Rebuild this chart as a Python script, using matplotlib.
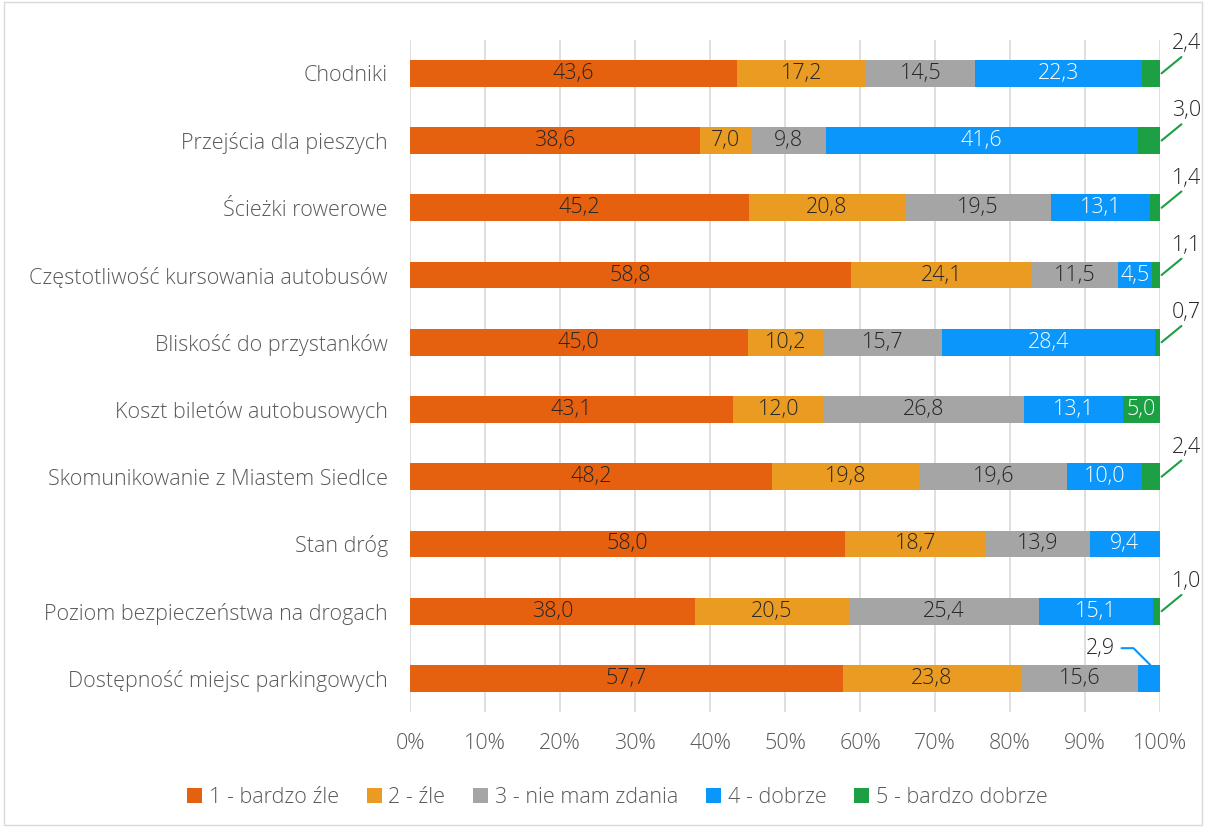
import matplotlib
matplotlib.use("Agg")
import matplotlib.pyplot as plt
from matplotlib.patches import Rectangle

plt.rcParams["font.family"] = ["Open Sans", "DejaVu Sans"]
plt.rcParams["font.weight"] = "light"

CATEGORIES = [
    "Chodniki",
    "Przejścia dla pieszych",
    "Ścieżki rowerowe",
    "Częstotliwość kursowania autobusów",
    "Bliskość do przystanków",
    "Koszt biletów autobusowych",
    "Skomunikowanie z Miastem Siedlce",
    "Stan dróg",
    "Poziom bezpieczeństwa na drogach",
    "Dostępność miejsc parkingowych",
]
BARDZO_ZLE = [43.6, 38.6, 45.2, 58.8, 45.0, 43.1, 48.2, 58.0, 38.0, 57.7]
ZLE = [17.2, 7.0, 20.8, 24.1, 10.2, 12.0, 19.8, 18.7, 20.5, 23.8]
NIE_MAM = [14.5, 9.8, 19.5, 11.5, 15.7, 26.8, 19.6, 13.9, 25.4, 15.6]
DOBRZE = [22.3, 41.6, 13.1, 4.5, 28.4, 13.1, 10.0, 9.4, 15.1, 2.9]
BARDZO_DOBRZE = [2.4, 3.0, 1.4, 1.1, 0.7, 5.0, 2.4, 0.0, 1.0, 0.0]
SERIES_NAMES = ["1 - bardzo źle", "2 - źle", "3 - nie mam zdania", "4 - dobrze", "5 - bardzo dobrze"]

COLORS = ["#E5600F", "#EA9C22", "#A5A5A5", "#0A96FA", "#1CA043"]
LABEL_COLORS = ["#262626", "#262626", "#262626", "white", "white"]
FS = 15.5

series = [BARDZO_ZLE, ZLE, NIE_MAM, DOBRZE, BARDZO_DOBRZE]

fig = plt.figure(figsize=(12.06, 8.27), dpi=100)
fig.patches.append(Rectangle((0.003, 0.003), 0.994, 0.994, transform=fig.transFigure,
                             fill=False, edgecolor="#D9D9D9", linewidth=1))
ax = fig.add_axes([0.34, 0.139, 0.6219, 0.813])

ypos = list(range(len(CATEGORIES)))
left = [0.0] * len(CATEGORIES)
for vals, col, lcol, name in zip(series, COLORS, LABEL_COLORS, SERIES_NAMES):
    ax.barh(ypos, vals, left=left, height=0.4, color=col, label=name, zorder=3)
    for i, v in enumerate(vals):
        # small segments get callouts below
        if v >= 4:
            ax.text(left[i] + v / 2, i, f"{v:.1f}".replace(".", ","), ha="center", va="center",
                    fontsize=FS, color=lcol, zorder=4)
    left = [a + b for a, b in zip(left, vals)]

# callouts for thin green segments
for i, v in enumerate(BARDZO_DOBRZE):
    if 0 < v < 4:
        ax.annotate(f"{v:.1f}".replace(".", ","), xy=(100.2, i), xytext=(103.5, i - 0.44),
                    ha="center", va="center", fontsize=FS, color="#262626",
                    arrowprops=dict(arrowstyle="-", color=COLORS[4], lw=1.5,
                                    shrinkA=0, shrinkB=0, relpos=(0.45, 0.0)),
                    annotation_clip=False, zorder=5)

# callout for last blue segment
last = len(CATEGORIES) - 1
ax.annotate(f"{DOBRZE[last]:.1f}".replace(".", ","), xy=(98.7, last - 0.2),
            xytext=(92.0, last - 0.45), ha="center", va="center", fontsize=FS, color="#262626",
            arrowprops=dict(arrowstyle="-", color=COLORS[3], lw=1.5, shrinkA=3, shrinkB=0,
                            relpos=(1.0, 0.5),
                            connectionstyle="angle,angleA=0,angleB=135,rad=0"),
            annotation_clip=False, zorder=5)

ax.set_xlim(0, 100)
ax.set_ylim(len(CATEGORIES) - 0.5, -0.5)
ax.set_xticks(range(0, 101, 10))
ax.set_xticklabels([f"{t}%" for t in range(0, 101, 10)])
ax.set_yticks(ypos)
ax.set_yticklabels(CATEGORIES)
ax.tick_params(axis="both", length=0, labelsize=FS, colors="#595959")
ax.tick_params(axis="y", pad=16)
ax.tick_params(axis="x", pad=15)
ax.grid(axis="x", color="#D9D9D9", linewidth=1.2, zorder=0)
for s in ax.spines.values():
    s.set_visible(False)

fig.legend(loc="lower center", bbox_to_anchor=(0.512, 0.0), ncol=5, frameon=False,
           fontsize=FS, handlelength=0.7, handleheight=0.7, handletextpad=0.3,
           columnspacing=1.3, labelcolor="#595959")

fig.savefig("out.png", dpi=100)
